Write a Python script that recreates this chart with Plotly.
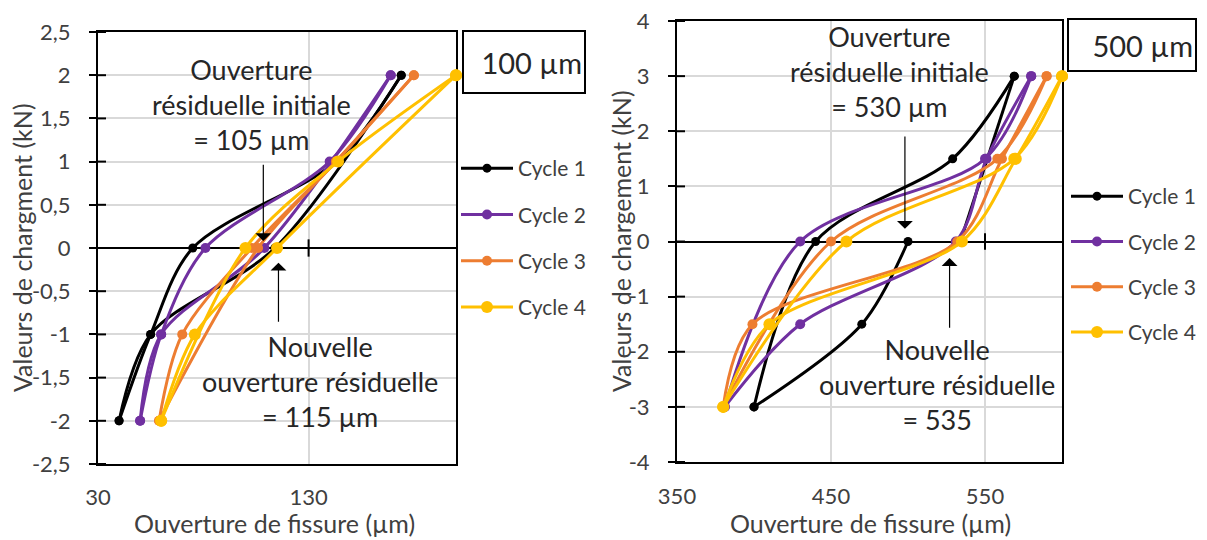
import plotly.graph_objects as go

# ---------------- DATA ----------------
cycle_names = ["Cycle 1", "Cycle 2", "Cycle 3", "Cycle 4"]
cycle_colors = ["#000000", "#7030A0", "#ED7D31", "#FFC000"]
marker_sizes = [9, 10, 10, 12]

# Left chart (100 µm): crack opening (µm) vs load (kN); None separates the two branches
L_c1_x = [174, 114, 55, 40, None, 40, 55, 75, 143, 174]
L_c1_y = [2, 0, -1, -2, None, -2, -1, 0, 1, 2]
L_c2_x = [169, 109, 60, 50, None, 50, 60, 81, 140, 169]
L_c2_y = [2, 0, -1, -2, None, -2, -1, 0, 1, 2]
L_c3_x = [180, 143, 106, 59, None, 59, 70, 103, 143, 180]
L_c3_y = [2, 1, 0, -2, None, -2, -1, 0, 1, 2]
L_c4_x = [200, 115, 76, 60, None, 60, 100, 144, 200]
L_c4_y = [2, 0, -1, -2, None, -2, 0, 1, 2]

# Right chart (500 µm)
R_c1_x = [569, 534, None, 500, 470, 400, None, 400, 440, 529, 569]
R_c1_y = [3, 0, None, 0, -1.5, -3, None, -3, 0, 1.5, 3]
R_c2_x = [580, 551, 531, 430, 381, None, 381, 430, 550, 580]
R_c2_y = [3, 1.5, 0, -1.5, -3, None, -3, 0, 1.5, 3]
R_c3_x = [590, 561, 532, 399, 380, None, 380, 450, 558, 590]
R_c3_y = [3, 1.5, 0, -1.5, -3, None, -3, 0, 1.5, 3]
R_c4_x = [600, 570, 535, 410, 380, None, 380, 460, 569, 600]
R_c4_y = [3, 1.5, 0, -1.5, -3, None, -3, 0, 1.5, 3]

L_yticks = [-2.5, -2, -1.5, -1, -0.5, 0, 0.5, 1, 1.5, 2, 2.5]
L_ytext = ["-2,5", "-2", "-1,5", "-1", "-0,5", "0", "0,5", "1", "1,5", "2", "2,5"]
L_xticks = [30, 130]
R_yticks = [-4, -3, -2, -1, 0, 1, 2, 3, 4]
R_ytext = ["-4", "-3", "-2", "-1", "0", "1", "2", "3", "4"]
R_xticks = [350, 450, 550]

L_range_x, L_range_y = [30, 200], [-2.5, 2.5]
R_range_x, R_range_y = [350, 600], [-4, 4]

# residual openings pointed by arrows (x, y_tip, y_tail)
L_arrow_init = (108.5, 0.08, 0.98)
L_arrow_new = (115.7, -0.17, -0.87)
R_arrow_init = (498, 0.23, 1.93)
R_arrow_new = (527, -0.3, -1.59)

# ---------------- FIGURE ----------------
FONT = "Lato"
TXT = "#404040"
W, H = 1207, 540
OFF = 8  # page body margin
fig = go.Figure()

left_data = [(L_c1_x, L_c1_y), (L_c2_x, L_c2_y), (L_c3_x, L_c3_y), (L_c4_x, L_c4_y)]
right_data = [(R_c1_x, R_c1_y), (R_c2_x, R_c2_y), (R_c3_x, R_c3_y), (R_c4_x, R_c4_y)]

for i, (xs, ys) in enumerate(left_data):
    fig.add_trace(go.Scatter(
        x=xs, y=ys, name=cycle_names[i], mode="lines+markers",
        line=dict(color=cycle_colors[i], width=3, shape="spline", smoothing=0.9),
        marker=dict(color=cycle_colors[i], size=marker_sizes[i]),
        xaxis="x", yaxis="y", legend="legend", legendgroup="L%d" % i,
        cliponaxis=False, connectgaps=False))

for i, (xs, ys) in enumerate(right_data):
    fig.add_trace(go.Scatter(
        x=xs, y=ys, name=cycle_names[i], mode="lines+markers",
        line=dict(color=cycle_colors[i], width=3, shape="spline", smoothing=0.9),
        marker=dict(color=cycle_colors[i], size=marker_sizes[i]),
        xaxis="x2", yaxis="y2", legend="legend2", legendgroup="R%d" % i,
        cliponaxis=False, connectgaps=False))

def px_x(p):
    return (p - OFF) / W

def px_y(p):
    return 1 - (p - OFF) / H

axis_common = dict(showline=True, linecolor="black", linewidth=2, mirror=True,
                   showgrid=True, gridcolor="#D9D9D9", gridwidth=1.5, automargin=False,
                   ticklabeloverflow="allow",
                   layer="below traces", tickfont=dict(family=FONT, size=22, color=TXT))

fig.update_layout(
    width=W, height=H, margin=dict(l=0, r=0, t=0, b=0, autoexpand=False),
    paper_bgcolor="white", plot_bgcolor="white",
    font=dict(family=FONT, color=TXT),
    xaxis=dict(domain=[px_x(98), px_x(456)], range=L_range_x, tickvals=L_xticks,
               ticks="outside", ticklen=13, tickcolor="rgba(0,0,0,0)", zeroline=False,
               anchor="y", **axis_common),
    yaxis=dict(domain=[px_y(464), px_y(32)], range=L_range_y, tickvals=L_yticks, ticktext=L_ytext,
               ticks="outside", ticklen=7, tickcolor="black", tickwidth=2, ticklabelstandoff=14,
               zeroline=True, zerolinecolor="black", zerolinewidth=2, anchor="x", **axis_common),
    xaxis2=dict(domain=[px_x(677), px_x(1062)], range=R_range_x, tickvals=R_xticks,
                ticks="outside", ticklen=14, tickcolor="rgba(0,0,0,0)", zeroline=False,
                anchor="y2", **axis_common),
    yaxis2=dict(domain=[px_y(462), px_y(21)], range=R_range_y, tickvals=R_yticks, ticktext=R_ytext,
                ticks="outside", ticklen=7, tickcolor="black", tickwidth=2, ticklabelstandoff=14,
                zeroline=True, zerolinecolor="black", zerolinewidth=2, anchor="x2", **axis_common),
    legend=dict(x=px_x(456), y=px_y(148), xanchor="left", yanchor="top",
                font=dict(family=FONT, size=21, color=TXT), itemwidth=52,
                tracegroupgap=16, traceorder="grouped", bgcolor="rgba(0,0,0,0)"),
    legend2=dict(x=px_x(1066), y=px_y(176), xanchor="left", yanchor="top",
                 font=dict(family=FONT, size=21, color=TXT), itemwidth=52,
                 tracegroupgap=15, traceorder="grouped", bgcolor="rgba(0,0,0,0)"),
)

# inner halves of the y tick marks (cross ticks)
shapes = []
for v in L_yticks:
    shapes.append(dict(type="line", xref="x domain", yref="y", x0=0, x1=8 / 358, y0=v, y1=v,
                       line=dict(color="black", width=2)))
for v in R_yticks:
    shapes.append(dict(type="line", xref="x2 domain", yref="y2", x0=0, x1=8 / 385, y0=v, y1=v,
                       line=dict(color="black", width=2)))
# tick on the horizontal axis crossing at 0
shapes.append(dict(type="line", xref="x", yref="y", x0=L_xticks[1], x1=L_xticks[1], y0=-0.1, y1=0.1,
                   line=dict(color="black", width=2)))
shapes.append(dict(type="line", xref="x2", yref="y2", x0=R_xticks[2], x1=R_xticks[2], y0=-0.15, y1=0.15,
                   line=dict(color="black", width=2)))
fig.update_layout(shapes=shapes)

ANN = "#262626"
annots = []

def text_block(lines, cx, cy, size=27):
    annots.append(dict(text="<br>".join(lines), xref="paper", yref="paper", x=px_x(cx), y=px_y(cy),
                       xanchor="center", yanchor="middle", showarrow=False, align="center",
                       font=dict(family=FONT, size=size, color=ANN)))

text_block(["Ouverture", "résiduelle initiale", "= 105 µm"], 251, 105)
text_block(["Nouvelle", "ouverture résiduelle", "= 115 µm"], 320, 382)
text_block(["Ouverture", "résiduelle initiale", "= 530 µm"], 889, 72)
text_block(["Nouvelle", "ouverture résiduelle", "= 535"], 937, 384)

def arrow(a, xr, yr):
    x, ytip, ytail = a
    annots.append(dict(x=x, y=ytip, ax=x, ay=ytail, xref=xr, yref=yr, axref=xr, ayref=yr,
                       text="", showarrow=True, arrowhead=1, arrowsize=2.2, arrowwidth=1.2,
                       arrowcolor="black"))

arrow(L_arrow_init, "x", "y")
arrow(L_arrow_new, "x", "y")
arrow(R_arrow_init, "x2", "y2")
arrow(R_arrow_new, "x2", "y2")

# size label boxes
annots.append(dict(text="100 µm", xref="paper", yref="paper", x=px_x(462), y=px_y(30),
                   xanchor="left", yanchor="top", showarrow=False, align="right",
                   width=116, height=56, borderwidth=2, bordercolor="black", borderpad=2,
                   bgcolor="white", valign="middle",
                   font=dict(family=FONT, size=29, color=ANN)))
annots.append(dict(text="500 µm", xref="paper", yref="paper", x=px_x(1067), y=px_y(18),
                   xanchor="left", yanchor="top", showarrow=False, align="right",
                   width=122, height=46, borderwidth=2, bordercolor="black", borderpad=2,
                   bgcolor="white", valign="middle",
                   font=dict(family=FONT, size=29, color=ANN)))

# axis titles
annots.append(dict(text="Ouverture de fissure (µm)", xref="paper", yref="paper", x=px_x(274), y=px_y(523),
                   xanchor="center", yanchor="middle", showarrow=False,
                   font=dict(family=FONT, size=25, color=TXT)))
annots.append(dict(text="Ouverture de fissure (µm)", xref="paper", yref="paper", x=px_x(870), y=px_y(523),
                   xanchor="center", yanchor="middle", showarrow=False,
                   font=dict(family=FONT, size=25, color=TXT)))
annots.append(dict(text="Valeurs de chargment (kN)", xref="paper", yref="paper", x=px_x(22), y=px_y(248),
                   xanchor="center", yanchor="middle", showarrow=False, textangle=-90,
                   font=dict(family=FONT, size=25, color=TXT)))
annots.append(dict(text="Valeurs de chargement (kN)", xref="paper", yref="paper", x=px_x(621), y=px_y(241),
                   xanchor="center", yanchor="middle", showarrow=False, textangle=-90,
                   font=dict(family=FONT, size=25, color=TXT)))

fig.update_layout(annotations=annots)
fig.write_html("out.html")
